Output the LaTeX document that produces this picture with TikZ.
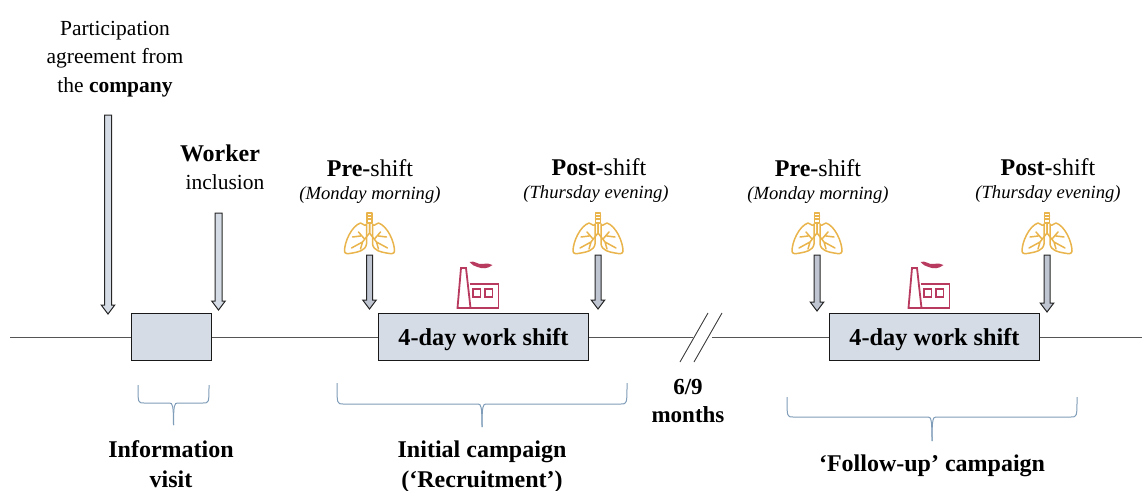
\documentclass[tikz,border=0pt]{standalone}
\usepackage{fontspec}
\setmainfont{Liberation Serif}
\definecolor{boxfill}{HTML}{D5DCE6}
\definecolor{arrfill}{HTML}{BFC6D2}
\definecolor{lungc}{HTML}{E9B44C}
\definecolor{factc}{HTML}{B83A5E}
\definecolor{bracec}{HTML}{7F9DB9}
\definecolor{linec}{HTML}{555555}
\tikzset{
  phase/.style={draw=black!90,line width=1.3pt,fill=boxfill,inner sep=0pt,font=\bfseries\fontsize{24.3}{28}\selectfont},
  tline/.style={draw=linec,line width=1pt},
  slash/.style={draw=black!75,line width=.9pt},
  brc/.style={draw=bracec,line width=1pt},
  lbl/.style={align=center,inner sep=0pt,font=\fontsize{21.5}{28.5}\selectfont},
  big/.style={align=center,inner sep=0pt,font=\fontsize{24}{29}\selectfont},
  bigb/.style={align=center,inner sep=0pt,font=\bfseries\fontsize{24}{29.5}\selectfont},
  sub/.style={align=center,inner sep=0pt,font=\itshape\fontsize{18.6}{21}\selectfont},
  blk/.style={draw=black!85,line width=1pt,fill=arrfill,line join=miter},
  blkl/.style={draw=black!85,line width=1pt,fill=boxfill,line join=miter},
  lungpic/.style={draw=lungc,line width=1.5pt,line join=round,line cap=round},
  factpic/.style={draw=factc,line width=1.8pt,line join=miter},
  lungs/.pic={
    \path[lungpic] (-2.5,0) rectangle (2.5,10);
    \path[lungpic] (-2.5,3)--(2.5,3) (-2.5,6)--(2.5,6);
    \foreach \s in {-1,1}{
      \begin{scope}[xscale=\s]
        \path[lungpic] (3,11) .. controls (4,14) and (6,11) .. (9,10) .. controls (18,13) and (25,29) .. (25,38) .. controls (25,41) and (22,41) .. (17,40) .. controls (12,39) and (4,38) .. (3,31) -- (3,11);
        \path[lungpic] (0,10) -- (0,20) -- (7,29) (7,29) -- (18,35) (5,26) -- (11,19) (7,29) -- (9,36) (9,23) -- (17,24);
      \end{scope}
    }
  },
  factory/.pic={
    \path[factpic] (0,46) -- (3.5,6) -- (8.5,6) -- (13,46) -- cycle;
    \path[factpic] (12,22) -- (41,22) -- (41,46) -- (0,46);
    \path[factpic] (15.5,27) rectangle (23,35);
    \path[factpic] (27.5,27) rectangle (35,35);
    \fill[factc] (12,0) .. controls (17,-2) and (20,3) .. (25,2) .. controls (30,1) and (33,2) .. (35,3) .. controls (30,7) and (25,7) .. (20,5) .. controls (17,4) and (14,3) .. (12,0) -- cycle;
  }
}
\newcommand{\blockarr}[5]{% style halfwidth x top bottom
  \path[#1] (#3-#2,#4) -- (#3+#2,#4) -- (#3+#2,#5-9) -- (#3+6.8,#5-9) -- (#3,#5) -- (#3-6.8,#5-9) -- (#3-#2,#5-9) -- cycle;}
\newcommand{\curly}[5]{% x0 x1 ytop ymid ytip
  \pgfmathsetmacro{\xm}{(#1+#2)/2}
  \path[brc] (#1,#3) .. controls (#1,#4) and (#1,#4) .. (#1+6,#4) -- (\xm-4,#4) .. controls (\xm-1,#4) and (\xm,#4+2) .. (\xm,#5);
  \path[brc] (#2,#3) .. controls (#2,#4) and (#2,#4) .. (#2-6,#4) -- (\xm+4,#4) .. controls (\xm+1,#4) and (\xm,#4+2) .. (\xm,#5);}
\begin{document}
\begin{tikzpicture}[x=1pt,y=-1pt]
\useasboundingbox (0,0) rectangle (1142,490);
% timeline boxes
\node[phase,minimum width=80pt,minimum height=47pt] (b1) at (171.5,337) {};
\node[phase,minimum width=210pt,minimum height=47pt] (b2) at (483.5,337) {\raisebox{-8pt}[0pt][0pt]{4-day work shift}};
\node[phase,minimum width=210pt,minimum height=47pt] (b3) at (934.5,337) {\raisebox{-8pt}[0pt][0pt]{4-day work shift}};
\coordinate (start) at (10,337);
\coordinate (breakL) at (693,337);
\coordinate (breakR) at (712,337);
\coordinate (finish) at (1142,337);
\draw[tline] (start) -- (b1.west);
\draw[tline] (b1.east) -- (b2.west);
\draw[tline] (b2.east) -- (breakL);
\draw[tline] (breakR) -- (b3.west);
\draw[tline] (b3.east) -- (finish);
\coordinate (s1a) at (708,313); \coordinate (s1b) at (680,362);
\coordinate (s2a) at (722,313); \coordinate (s2b) at (694,362);
\draw[slash] (s1a) -- (s1b);
\draw[slash] (s2a) -- (s2b);
% block arrows
\blockarr{blkl}{3.5}{108}{115}{314}
\blockarr{blkl}{3.5}{218.5}{213}{310}
\blockarr{blk}{3}{369.5}{255}{309}
\blockarr{blk}{3}{598}{255}{309}
\blockarr{blk}{3}{817}{255}{311}
\blockarr{blk}{3}{1047}{255}{312}
% icons
\pic at (369.5,213) {lungs};
\pic at (598,213) {lungs};
\pic at (817,213) {lungs};
\pic at (1047,213) {lungs};
\pic at (457.5,262) {factory};
\pic at (908.5,262) {factory};
% top labels
\node[lbl] (t1) at (115,59) {Participation\\agreement from\\the \textbf{company}};
\node[big] (t2a) at (220,153) {\textbf{Worker}};
\node[lbl] (t2b) at (225,182) {inclusion};
\node[big] (t3) at (370,168) {\textbf{Pre-}shift};
\node[sub] (t3s) at (370,195) {(Monday morning)};
\node[big] (t4) at (599,167) {\textbf{Post-}shift};
\node[sub] (t4s) at (596,194) {(Thursday evening)};
\node[big] (t5) at (818,168) {\textbf{Pre-}shift};
\node[sub] (t5s) at (818,195) {(Monday morning)};
\node[big] (t6) at (1048,167) {\textbf{Post-}shift};
\node[sub] (t6s) at (1048,194) {(Thursday evening)};
% braces
\curly{138}{209}{385}{403}{425}
\curly{337}{627}{383}{404}{427}
\curly{787}{1077}{397}{417}{441}
% bottom labels
\node[bigb] (l1) at (171,464) {Information\\visit};
\node[bigb,font=\bfseries\fontsize{23}{28.5}\selectfont] (l2) at (688,401) {6/9\\months};
\node[bigb] (l3) at (482,466.5) {Initial campaign\\(‘Recruitment’)};
\node[bigb] (l4) at (932,466) {‘Follow-up’ campaign};
\end{tikzpicture}
\end{document}
